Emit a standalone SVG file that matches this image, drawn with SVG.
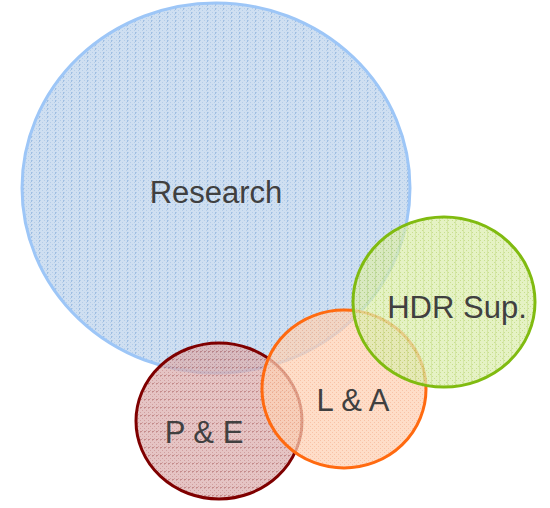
<svg xmlns="http://www.w3.org/2000/svg" width="550" height="508" viewBox="0 0 550 508">
<defs>
<pattern id="pBlue" width="8" height="4" patternUnits="userSpaceOnUse">
<rect width="8" height="4" fill="#bfd4ec"/>
<rect x="0" y="0" width="1" height="1" fill="#9bbce0"/><rect x="2" y="2" width="1" height="1" fill="#9bbce0"/>
<rect x="4" y="0" width="1" height="1" fill="#9bbce0"/><rect x="6" y="2" width="1" height="1" fill="#9bbce0"/>
<rect x="7" y="0" width="1" height="2" fill="#7fa8d8"/>
</pattern>
<pattern id="pRed" width="4" height="8" patternUnits="userSpaceOnUse">
<rect width="4" height="8" fill="#dcb0b0"/>
<rect x="0" y="0" width="1" height="1" fill="#c08080"/><rect x="2" y="2" width="1" height="1" fill="#c08080"/>
<rect x="0" y="4" width="1" height="1" fill="#c08080"/><rect x="2" y="6" width="1" height="1" fill="#c08080"/>
<rect x="0" y="7" width="2" height="1" fill="#b06666"/>
</pattern>
<pattern id="pOrange" width="8" height="8" patternUnits="userSpaceOnUse">
<rect width="8" height="8" fill="#fdd2b5"/>
<rect x="0" y="0" width="1" height="1" fill="#f6ae88"/><rect x="2" y="2" width="1" height="1" fill="#f6ae88"/>
<rect x="4" y="4" width="1" height="1" fill="#f6ae88"/><rect x="6" y="6" width="1" height="1" fill="#f6ae88"/>
<rect x="4" y="0" width="1" height="1" fill="#f6ae88"/><rect x="6" y="2" width="1" height="1" fill="#f6ae88"/>
<rect x="0" y="4" width="1" height="1" fill="#f6ae88"/><rect x="2" y="6" width="1" height="1" fill="#f6ae88"/>
</pattern>
<pattern id="pGreen" width="8" height="8" patternUnits="userSpaceOnUse">
<rect width="8" height="8" fill="#dcedb0"/>
<rect x="0" y="0" width="1" height="1" fill="#b5d46a"/><rect x="2" y="2" width="1" height="1" fill="#b5d46a"/>
<rect x="4" y="4" width="1" height="1" fill="#b5d46a"/><rect x="6" y="6" width="1" height="1" fill="#b5d46a"/>
<rect x="4" y="0" width="1" height="1" fill="#b5d46a"/><rect x="0" y="4" width="1" height="1" fill="#b5d46a"/>
<rect x="7" y="0" width="1" height="8" fill="#c5df85"/>
</pattern>
</defs>
<style>
.lbl{font-family:"Liberation Sans",Arial,sans-serif;font-size:31px;fill:#404040;text-anchor:middle}
.c{stroke-width:3;fill-opacity:0.75}
</style>
<g id="research">
<ellipse class="c" cx="216" cy="188" rx="194" ry="185" fill="url(#pBlue)" stroke="#9dc6f7"/>
<text class="lbl" x="216" y="203">Research</text>
</g>
<g id="pe">
<ellipse class="c" cx="219" cy="421" rx="83" ry="78" fill="url(#pRed)" stroke="#7f0000"/>
<text class="lbl" x="204" y="443">P &amp; E</text>
</g>
<g id="la">
<ellipse class="c" cx="344" cy="389" rx="82" ry="79" fill="url(#pOrange)" stroke="#ff6a10" fill-opacity="0.7"/>
<text class="lbl" x="353" y="411">L &amp; A</text>
</g>
<g id="hdr">
<ellipse class="c" cx="444" cy="302" rx="91" ry="85" fill="url(#pGreen)" stroke="#80bb10" fill-opacity="0.7"/>
<text class="lbl" x="457" y="318">HDR Sup.</text>
</g>
<g id="connectors"/>
</svg>
